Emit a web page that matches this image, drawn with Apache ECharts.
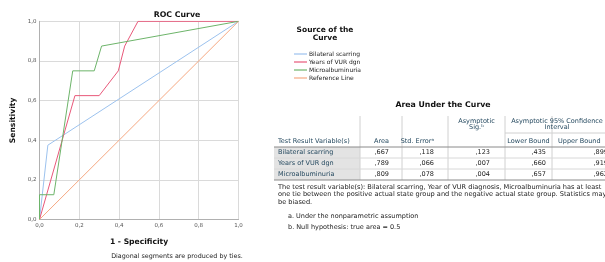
<!DOCTYPE html>
<html lang="en">
<head>
    <meta charset="UTF-8">
    <title>ROC Curve</title>
    <script type="text/javascript" src="https://cdn.jsdelivr.net/npm/echarts@6/dist/echarts.min.js"></script>
    <style>
        body { margin: 0; background: #fff; }
        #roc { width: 605px; height: 262px; }
    </style>
</head>
<body>
<div id="roc"></div>
<script type="text/javascript">
    // ROC points (1 - specificity, sensitivity)
    var bilateralX = [0, 0.042, 1];
    var bilateralY = [0, 0.375, 1];
    var vurX = [0, 0.178, 0.300, 0.396, 0.428, 0.495, 1];
    var vurY = [0, 0.625, 0.625, 0.750, 0.875, 1, 1];
    var microX = [0, 0, 0.072, 0.167, 0.275, 0.312, 1];
    var microY = [0, 0.125, 0.125, 0.750, 0.750, 0.875, 1];
    var refX = [0, 1];
    var refY = [0, 1];

    var seriesNames = ['Bilateral scarring', 'Years of VUR dgn', 'Microalbuminuria', 'Reference Line'];
    var seriesColors = ['#9cc2ee', '#e8587a', '#6db46a', '#f5a882'];

    // Area Under the Curve table
    var rowNames = ['Bilateral scarring', 'Years of VUR dgn', 'Microalbuminuria'];
    var area = [0.667, 0.789, 0.809];
    var stdError = [0.118, 0.066, 0.078];
    var asympSig = [0.123, 0.007, 0.004];
    var lowerBound = [0.435, 0.660, 0.657];
    var upperBound = [0.899, 0.919, 0.962];

    var footLines = [
        'The test result variable(s): Bilateral scarring, Year of VUR diagnosis, Microalbuminuria has at least',
        'one tie between the positive actual state group and the negative actual state group. Statistics may',
        'be biased.'
    ];

    function comma(v) {
        return v.toFixed(1).replace('.', ',');
    }
    function fmt3(v) {
        return v.toFixed(3).replace(/^0\./, ',');
    }
    function pairs(xs, ys) {
        var out = [];
        for (var i = 0; i < xs.length; i++) out.push([xs[i], ys[i]]);
        return out;
    }

    var FONT = 'DejaVu Sans';
    var fs = 6.5;
    var labelColor = '#264a60';

    // table layout
    var tLeft = 274, tLabelEnd = 360;
    var colRight = [389, 434, 490, 546, 608];
    var colSep = [402, 448, 505, 552];
    var headTop = 116, headLine = 147, rowH = 11;
    var cols = [area, stdError, asympSig, lowerBound, upperBound];

    var g = [];
    function txt(x, y, s, opt) {
        opt = opt || {};
        g.push({
            type: 'text', x: x, y: y, silent: true,
            style: {
                text: s, fill: opt.fill || '#222',
                font: (opt.bold ? 'bold ' : '') + (opt.size || fs) + 'px "' + FONT + '"',
                textAlign: opt.align || 'left', textVerticalAlign: 'middle'
            }
        });
    }
    function line(x1, y1, x2, y2, c) {
        g.push({
            type: 'line', silent: true,
            shape: { x1: x1, y1: y1, x2: x2, y2: y2 },
            style: { stroke: c, lineWidth: 1 }
        });
    }

    txt(177, 15, 'ROC Curve', { bold: true, size: 7.8, align: 'center', fill: '#111' });
    txt(325, 30, 'Source of the', { bold: true, size: 7.5, align: 'center', fill: '#111' });
    txt(325, 38, 'Curve', { bold: true, size: 7.5, align: 'center', fill: '#111' });
    txt(177, 256, 'Diagonal segments are produced by ties.', { size: 6.4, align: 'center', fill: '#222' });

    // table
    txt(443, 105, 'Area Under the Curve', { bold: true, size: 7.8, align: 'center', fill: '#111' });
    var tBottom = headLine + rowH * rowNames.length;
    for (var r = 0; r < rowNames.length; r++) {
        var y0 = headLine + r * rowH;
        g.push({
            type: 'rect', silent: true,
            shape: { x: tLeft, y: y0, width: tLabelEnd - tLeft, height: rowH },
            style: { fill: '#e3e3e3' }
        });
    }
    for (var s = 0; s < colSep.length; s++) {
        line(colSep[s], headTop, colSep[s], tBottom, '#d0d0d0');
    }
    line(tLabelEnd, headTop, tLabelEnd, tBottom, '#d0d0d0');
    line(colSep[2], 133, 610, 133, '#d0d0d0');
    line(tLeft, headLine, 610, headLine, '#8a8a8a');
    for (var r2 = 1; r2 < rowNames.length; r2++) {
        line(tLeft, headLine + r2 * rowH, 610, headLine + r2 * rowH, '#d8d8d8');
    }
    line(tLeft, tBottom, 610, tBottom, '#8a8a8a');

    txt(278, 141, 'Test Result Variable(s)', { fill: labelColor });
    txt(colRight[0], 141, 'Area', { align: 'right', fill: labelColor });
    txt(colRight[1], 141, 'Std. Error\u1d43', { align: 'right', fill: labelColor });
    txt((colSep[1] + colSep[2]) / 2, 121, 'Asymptotic', { align: 'center', fill: labelColor });
    txt((colSep[1] + colSep[2]) / 2, 127, 'Sig.\u1d47', { align: 'center', fill: labelColor });
    txt(557, 121, 'Asymptotic 95% Confidence', { align: 'center', fill: labelColor });
    txt(557, 127, 'Interval', { align: 'center', fill: labelColor });
    txt((colSep[2] + colSep[3]) / 2, 141, 'Lower Bound', { align: 'center', fill: labelColor });
    txt(558, 141, 'Upper Bound', { fill: labelColor });

    for (var i = 0; i < rowNames.length; i++) {
        var yc = headLine + i * rowH + rowH / 2;
        txt(278, yc, rowNames[i], { fill: labelColor });
        for (var c = 0; c < cols.length; c++) {
            txt(colRight[c], yc, fmt3(cols[c][i]), { align: 'right' });
        }
    }
    for (var k = 0; k < footLines.length; k++) {
        txt(278, tBottom + 7 + k * 7.5, footLines[k], { size: 6.6 });
    }
    txt(288, tBottom + 36, 'a. Under the nonparametric assumption');
    txt(288, tBottom + 47, 'b. Null hypothesis: true area = 0.5');

    var chart = echarts.init(document.getElementById('roc'), null, { renderer: 'canvas' });
    var axisCommon = {
        type: 'value', min: 0, max: 1, interval: 0.2,
        axisLine: { show: true, lineStyle: { color: '#b0b0b0', width: 1 } },
        axisTick: { show: false },
        splitLine: { show: true, lineStyle: { color: '#dadada', width: 1 } },
        axisLabel: { fontSize: 5.5, color: '#555', fontFamily: FONT, formatter: comma, margin: 3 },
        nameTextStyle: { fontFamily: FONT, fontWeight: 'bold', fontSize: 7.6, color: '#111' },
        nameLocation: 'middle'
    };

    var series = [];
    var xs = [bilateralX, vurX, microX, refX];
    var ys = [bilateralY, vurY, microY, refY];
    for (var n = 0; n < seriesNames.length; n++) {
        series.push({
            name: seriesNames[n], type: 'line', data: pairs(xs[n], ys[n]),
            showSymbol: false, silent: true, animation: false,
            lineStyle: { color: seriesColors[n], width: 1 },
            itemStyle: { color: seriesColors[n] }
        });
    }

    var option = {
        animation: false,
        grid: { left: 39.5, right: 366.5, top: 21.3, bottom: 42.5 },
        xAxis: Object.assign({}, axisCommon, { name: '1 - Specificity', nameGap: 19 }),
        yAxis: Object.assign({}, axisCommon, { name: 'Sensitivity', nameGap: 22 }),
        legend: {
            orient: 'vertical', left: 289, top: 45,
            icon: 'rect', itemWidth: 13, itemHeight: 1.2, itemGap: 0,
            data: seriesNames,
            textStyle: { fontSize: 6, color: '#222', fontFamily: FONT, lineHeight: 8, padding: [0, 0, 0, -3] }
        },
        graphic: g,
        series: series
    };
    chart.setOption(option);
</script>
</body>
</html>
